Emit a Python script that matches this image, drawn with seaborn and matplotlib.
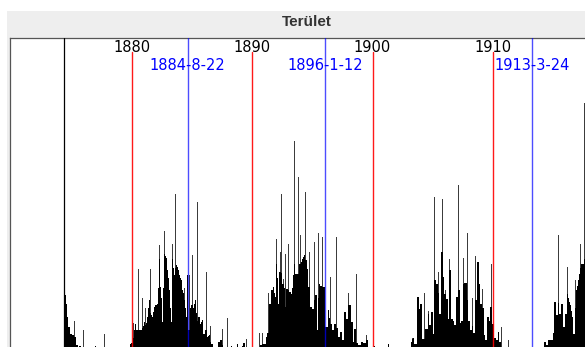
import numpy as np
import pandas as pd
import matplotlib
matplotlib.use("Agg")
import matplotlib.pyplot as plt
import seaborn as sns
from matplotlib.patches import Rectangle

# ---------------- data ----------------
title = "Terület"
first_month = "1874-05"
# monthly sunspot area (base envelope), arbitrary units
base_area = [
    53, 53, 44, 31, 21, 21, 14, 14, 13, 13,
    11, 11, 3, 3, 0, 2, 2, 0, 0, 1,
    0, 0, 0, 0, 0, 0, 0, 0, 0, 0,
    0, 2, 0, 0, 0, 0, 0, 0, 0, 0,
    0, 0, 0, 0, 0, 0, 0, 0, 0, 0,
    0, 0, 0, 0, 0, 0, 0, 0, 0, 0,
    0, 0, 0, 0, 0, 0, 4, 5, 5, 10,
    18, 24, 18, 18, 18, 18, 18, 18, 20, 22,
    26, 23, 25, 31, 40, 48, 35, 33, 31, 36,
    41, 43, 43, 44, 60, 89, 61, 50, 26, 60,
    94, 92, 90, 78, 70, 58, 40, 26, 89, 80,
    73, 80, 83, 81, 78, 73, 70, 68, 58, 55,
    48, 40, 31, 73, 18, 18, 40, 43, 43, 40,
    44, 48, 35, 27, 31, 31, 24, 26, 28, 14,
    14, 18, 18, 11, 12, 13, 6, 4, 4, 0,
    0, 0, 0, 0, 6, 6, 8, 8, 3, 0,
    0, 0, 0, 0, 0, 0, 0, 2, 0, 0,
    0, 0, 0, 4, 0, 0, 0, 0, 2, 5,
    5, 0, 0, 0, 0, 0, 0, 0, 0, 0,
    0, 0, 0, 0, 0, 0, 3, 3, 4, 4,
    4, 4, 11, 15, 15, 44, 44, 58, 58, 61,
    55, 51, 84, 70, 44, 76, 76, 75, 64, 64,
    60, 41, 59, 59, 58, 56, 56, 54, 60, 73,
    84, 74, 74, 74, 74, 84, 84, 86, 89, 91,
    93, 88, 88, 79, 61, 61, 41, 41, 39, 39,
    48, 53, 53, 18, 50, 64, 62, 62, 61, 61,
    61, 21, 21, 21, 38, 30, 24, 24, 18, 18,
    24, 24, 20, 20, 11, 11, 16, 16, 8, 8,
    36, 36, 29, 29, 43, 43, 26, 26, 6, 19,
    19, 5, 5, 3, 3, 3, 6, 6, 5, 5,
    5, 8, 8, 0, 0, 0, 0, 0, 0, 2,
    0, 0, 0, 0, 0, 0, 0, 0, 0, 0,
    0, 0, 0, 4, 0, 0, 0, 0, 0, 0,
    0, 0, 0, 0, 0, 0, 0, 0, 0, 0,
    0, 0, 0, 0, 0, 0, 6, 9, 10, 4,
    4, 4, 51, 51, 39, 44, 44, 9, 9, 9,
    19, 19, 19, 34, 23, 23, 36, 36, 14, 68,
    68, 64, 64, 55, 34, 34, 96, 96, 71, 54,
    54, 49, 49, 29, 78, 78, 29, 29, 27, 23,
    23, 51, 51, 58, 58, 25, 27, 27, 64, 65,
    65, 65, 48, 27, 27, 18, 18, 22, 15, 15,
    48, 48, 86, 86, 64, 44, 44, 40, 40, 13,
    8, 8, 31, 31, 27, 41, 41, 24, 24, 10,
    10, 8, 8, 16, 6, 6, 0, 0, 0, 0,
    0, 0, 0, 0, 0, 0, 0, 0, 0, 0,
    0, 0, 0, 0, 0, 0, 0, 0, 0, 0,
    0, 0, 0, 0, 0, 0, 0, 0, 0, 0,
    0, 0, 0, 0, 0, 0, 0, 0, 0, 6,
    6, 3, 3, 8, 8, 8, 8, 8, 15, 46,
    46, 33, 33, 45, 34, 34, 44, 44, 21, 21,
    34, 34, 54, 50, 46, 43, 37, 31, 14, 14,
    40, 58, 62, 68, 74, 80, 84, 84, 84, 89,
    89, 91,
]
# monthly peaks (single-day spikes)
spike_months = [
    "1875-03", "1875-12", "1877-09", "1880-02", "1880-07", "1880-11", "1881-02",
    "1881-07", "1882-04", "1882-09", "1883-05", "1883-08", "1884-05", "1884-10",
    "1885-01", "1885-06", "1886-03", "1886-07", "1887-07", "1887-12", "1889-07",
    "1890-08", "1890-11", "1891-05", "1892-01", "1892-05", "1892-06", "1892-08",
    "1892-10", "1893-01", "1893-07", "1893-11", "1894-01", "1894-06", "1894-10",
    "1895-03", "1895-07", "1895-11", "1896-07", "1897-01", "1898-01", "1898-08",
    "1899-06", "1903-04", "1904-04", "1904-08", "1905-02", "1905-06", "1905-10",
    "1906-01", "1906-05", "1907-02", "1907-07", "1907-11", "1908-04", "1908-07",
    "1909-02", "1909-11", "1910-09", "1911-04", "1915-06", "1916-03", "1916-11",
    "1917-04", "1917-08",
]
spike_area = [
    27, 18, 14, 25, 79, 50, 40,
    79, 103, 117, 104, 154, 60, 73,
    93, 146, 76, 22, 19, 30, 9,
    15, 15, 55, 109, 96, 154, 69,
    94, 104, 207, 171, 113, 156, 96,
    106, 115, 111, 71, 111, 55, 74,
    13, 10, 55, 37, 151, 76, 149,
    58, 89, 163, 90, 115, 50, 92,
    59, 84, 21, 8, 113, 81, 68,
    104, 245,
]
decade_years = [1880, 1890, 1900, 1910]
decade_labels = ["1880", "1890", "1900", "1910"]
event_dates = ["1884-08-22", "1896-01-12", "1913-03-24"]
event_labels = ["1884-8-22", "1896-1-12", "1913-3-24"]
record_start = 1874.35

# ---------------- helpers ----------------
def month_left(periods):
    return np.array([p.year + (p.month - 1) / 12 for p in periods])

def date_to_year(s):
    ts = pd.Timestamp(s)
    ndays = 366 if ts.is_leap_year else 365
    return ts.year + (ts.dayofyear - 0.5) / ndays

months = pd.period_range(first_month, periods=len(base_area), freq="M")
left = month_left(months)
bin_range = (left[0], left[-1] + 1 / 12)
base_df = pd.DataFrame({"t": left + 1 / 24, "area": base_area})
spike_df = pd.DataFrame({
    "t": month_left([pd.Period(m, freq="M") for m in spike_months]) + 1 / 24,
    "area": spike_area,
})

# ---------------- figure ----------------
sns.set_style("white")
plt.rcParams["font.family"] = ["DejaVu Sans"]

W, H = 585, 347
fig = plt.figure(figsize=(W / 100, H / 100), dpi=100)
fig.patch.set_facecolor("white")
fig.patches.append(Rectangle((7 / W, 0), 1, 1 - 11 / H, transform=fig.transFigure,
                             facecolor="#eeeeee", edgecolor="none", zorder=-5))

ax_left, ax_right, ax_top, ax_base = 10, 607, 38, 348
ax = fig.add_axes([ax_left / W, (H - ax_base) / H, (ax_right - ax_left) / W,
                   (ax_base - ax_top) / H])
ax.set_facecolor("white")

sns.histplot(data=spike_df, x="t", weights="area", binwidth=1 / 12,
             binrange=bin_range, color="#3c3c3c", alpha=1, linewidth=0,
             ax=ax, zorder=2)
sns.histplot(data=base_df, x="t", weights="area", binwidth=1 / 12,
             binrange=bin_range, color="black", alpha=1, linewidth=0,
             ax=ax, zorder=3)

ax.set_xlim(1869.86, 1919.49)
ax.set_ylim(0, ax_base - ax_top)
ax.set_xticks([])
ax.set_yticks([])
ax.set_xlabel("")
ax.set_ylabel("")
for s in ["right", "bottom"]:
    ax.spines[s].set_visible(False)
for s in ["top", "left"]:
    ax.spines[s].set_color("#555555")
    ax.spines[s].set_linewidth(0.9)

ax.axvline(record_start, color="black", lw=0.9, zorder=4)

trans = ax.get_xaxis_transform()
red_top = (ax_base - 52) / (ax_base - ax_top)
for yr, lab in zip(decade_years, decade_labels):
    ax.axvline(yr, ymin=0, ymax=red_top, color="#ff0000", lw=1.0, alpha=0.9, zorder=5)
    ax.text(yr, (ax_base - 39.5) / (ax_base - ax_top), lab, transform=trans,
            ha="center", va="top", fontsize=10.5, color="black", zorder=6)

for d, lab in zip(event_dates, event_labels):
    x = date_to_year(d)
    ax.axvline(x, color="#0000ff", lw=1.0, alpha=0.7, zorder=5)
    ax.text(x, (ax_base - 58.5) / (ax_base - ax_top), lab, transform=trans,
            ha="center", va="top", fontsize=10.5, color="#0000ff", zorder=6)

fig.text(307 / W, 1 - 22 / H, title, ha="center", va="center",
         fontsize=11, fontweight="bold", color="#333333",
         family=["Liberation Sans", "DejaVu Sans"])

fig.savefig("out.png", dpi=100)
